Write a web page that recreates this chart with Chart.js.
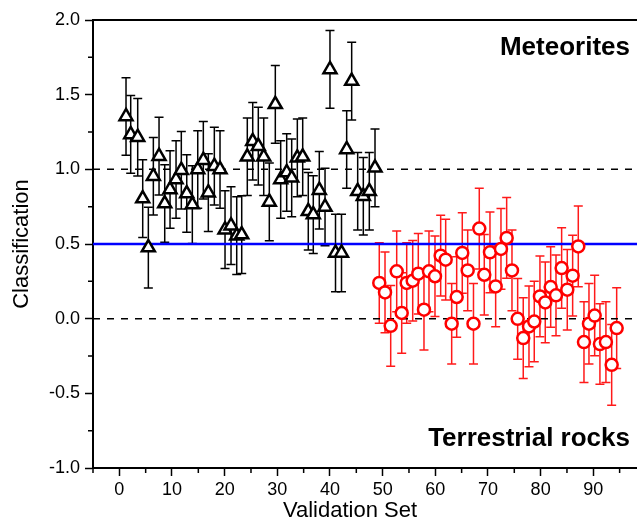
<!DOCTYPE html>
<html>
<head>
<meta charset="utf-8">
<script src="https://cdn.jsdelivr.net/npm/chart.js@4.4.1/dist/chart.umd.min.js"></script>
<style>
html,body{margin:0;padding:0;background:#fff}
#wrap{width:637px;height:527px}
</style>
</head>
<body>
<div id="wrap"><canvas id="c" width="637" height="527"></canvas></div>
<script>
// meteorites (triangles)
const meteoriteX=[1.27,2.16,3.49,4.44,5.51,6.46,7.54,8.62,9.63,10.77,11.77,12.80,13.86,14.89,15.95,16.90,18.04,19.12,20.07,21.21,22.29,23.24,24.30,25.33,26.39,27.42,28.48,29.62,30.64,31.78,32.73,33.80,34.82,35.88,36.83,37.97,39.06,40.00,41.05,42.19,43.17,44.12,45.26,46.33,47.47,48.55];
const meteoriteY=[1.354,1.234,1.215,0.804,0.476,0.954,1.088,0.771,0.865,0.932,0.994,0.838,0.764,0.999,1.061,0.844,1.021,0.999,0.596,0.623,0.556,0.563,1.084,1.188,1.155,1.084,0.782,1.435,0.932,0.979,0.943,1.077,1.084,0.719,0.697,0.860,0.748,1.669,0.440,0.440,1.133,1.591,0.853,0.820,0.853,1.010];
const meteoriteErr=[0.26,0.26,0.26,0.26,0.27,0.26,0.26,0.26,0.26,0.26,0.26,0.26,0.26,0.26,0.26,0.26,0.26,0.26,0.26,0.26,0.26,0.26,0.26,0.26,0.26,0.26,0.26,0.26,0.26,0.26,0.26,0.26,0.26,0.26,0.26,0.26,0.26,0.26,0.26,0.26,0.26,0.26,0.26,0.26,0.26,0.26];
// terrestrial rocks (circles)
const rockX=[49.36,50.45,51.53,52.67,53.62,54.57,55.71,56.77,57.85,58.80,59.94,61.02,61.97,63.11,64.06,65.12,66.15,67.25,68.35,69.30,70.38,71.46,72.47,73.55,74.56,75.64,76.70,77.79,78.79,79.87,80.88,81.91,82.92,83.99,85.06,86.08,87.15,88.23,89.18,90.26,91.26,92.40,93.49,94.44];
const rockY=[0.239,0.176,-0.048,0.317,0.038,0.239,0.254,0.301,0.060,0.317,0.284,0.422,0.395,-0.034,0.145,0.440,0.323,-0.034,0.603,0.294,0.444,0.216,0.467,0.541,0.323,-0.001,-0.130,-0.052,-0.019,0.149,0.109,0.212,0.156,0.339,0.194,0.288,0.484,-0.157,-0.034,0.021,-0.170,-0.157,-0.309,-0.063];
const rockErr=[0.27,0.27,0.27,0.27,0.27,0.27,0.27,0.27,0.27,0.27,0.27,0.27,0.27,0.27,0.27,0.27,0.27,0.27,0.27,0.27,0.27,0.27,0.27,0.27,0.27,0.27,0.27,0.27,0.27,0.27,0.27,0.27,0.27,0.27,0.27,0.27,0.27,0.27,0.27,0.27,0.27,0.27,0.27,0.27];
// axes
const xRange=[-5,98.3];
const yRange=[-1,2];
const xTicks=[0,10,20,30,40,50,60,70,80,90];
const xMinor=[-5,5,15,25,35,45,55,65,75,85,95];
const yTicks=[-1,-0.5,0,0.5,1,1.5,2];
const yMinor=[-0.75,-0.25,0.25,0.75,1.25,1.75];
const dashedLevels=[1.0,0.0];
const boundaryLevel=0.5;
const FONT='Arial, "Liberation Sans", sans-serif';

const pts=(xs,ys)=>xs.map((x,i)=>({x:x,y:ys[i]}));
const hline=v=>[{x:xRange[0],y:v},{x:xRange[1],y:v}];

const errorBars={
 id:'errorBars',
 beforeDatasetsDraw(chart){
  const ctx=chart.ctx,xs=chart.scales.x,ys=chart.scales.y;
  const sets=[[meteoriteX,meteoriteY,meteoriteErr,'#000'],[rockX,rockY,rockErr,'#ff1a1a']];
  ctx.save();
  sets.forEach(([X,Y,E,col])=>{
   ctx.strokeStyle=col;ctx.lineWidth=1.5;
   X.forEach((x,i)=>{
    const px=xs.getPixelForValue(x);
    const t=ys.getPixelForValue(Y[i]+E[i]),b=ys.getPixelForValue(Y[i]-E[i]);
    ctx.beginPath();
    ctx.moveTo(px,t);ctx.lineTo(px,b);
    ctx.moveTo(px-4.5,t);ctx.lineTo(px+4.5,t);
    ctx.moveTo(px-4.5,b);ctx.lineTo(px+4.5,b);
    ctx.stroke();
   });
  });
  ctx.restore();
 }
};

const frame={
 id:'frame',
 afterDraw(chart){
  const ctx=chart.ctx,a=chart.chartArea,xs=chart.scales.x,ys=chart.scales.y;
  ctx.save();
  ctx.strokeStyle='#000';
  ctx.lineWidth=2;
  ctx.beginPath();ctx.moveTo(a.left-1,a.top);ctx.lineTo(a.right,a.top);ctx.stroke();
  ctx.lineWidth=1.5;
  ctx.beginPath();
  xMinor.forEach(v=>{const p=xs.getPixelForValue(v);if(p>=a.left-1&&p<=a.right){ctx.moveTo(p,a.bottom);ctx.lineTo(p,a.bottom+5);}});
  yMinor.forEach(v=>{const p=ys.getPixelForValue(v);ctx.moveTo(a.left,p);ctx.lineTo(a.left-5,p);});
  ctx.stroke();
  ctx.fillStyle='#000';
  ctx.font='22px '+FONT;
  ctx.textAlign='center';ctx.textBaseline='middle';
  ctx.fillText('Validation Set',a.left+257,a.bottom+43);
  ctx.font='bold 26px '+FONT;
  ctx.textAlign='right';ctx.textBaseline='alphabetic';
  ctx.fillText('Meteorites',a.right-7,a.top+35);
  ctx.fillText('Terrestrial rocks',a.right-7,a.bottom-22);
  ctx.restore();
 }
};

const lineDs=(v,color,w,dash)=>({type:'line',data:hline(v),borderColor:color,borderWidth:w,borderDash:dash,pointRadius:0,fill:false,tension:0});

new Chart(document.getElementById('c'),{
 type:'scatter',
 data:{datasets:[
  {data:pts(meteoriteX,meteoriteY),pointStyle:'triangle',pointRadius:7.5,borderColor:'#000',backgroundColor:'#fff',borderWidth:2.5},
  {data:pts(rockX,rockY),pointStyle:'circle',pointRadius:6,borderColor:'#ff0000',backgroundColor:'#fff',borderWidth:2.5},
  lineDs(boundaryLevel,'#0000ff',2.5,[]),
  lineDs(dashedLevels[0],'#000',1.5,[7,7]),
  lineDs(dashedLevels[1],'#000',1.5,[7,7])
 ]},
 options:{
  responsive:false,animation:false,
  layout:{autoPadding:false,padding:{top:20,right:0,left:0,bottom:0}},
  plugins:{legend:{display:false},tooltip:{enabled:false}},
  scales:{
   x:{type:'linear',min:xRange[0],max:xRange[1],
    afterFit(s){s.height=59;s.paddingLeft=0;s.paddingRight=0;},
    afterBuildTicks(s){s.ticks=xTicks.map(v=>({value:v}));},
    grid:{display:true,drawOnChartArea:false,drawTicks:true,tickLength:8,tickWidth:1.5,tickColor:'#000'},
    border:{display:true,color:'#000',width:2},
    ticks:{color:'#000',padding:3,maxRotation:0,font:{family:FONT,size:18},callback:v=>String(v)}
   },
   y:{type:'linear',min:yRange[0],max:yRange[1],
    afterFit(s){s.width=93;},
    afterBuildTicks(s){s.ticks=yTicks.map(v=>({value:v}));},
    grid:{display:true,drawOnChartArea:false,drawTicks:true,tickLength:8,tickWidth:1.5,tickColor:'#000'},
    border:{display:true,color:'#000',width:2},
    ticks:{color:'#000',padding:5,font:{family:FONT,size:18},callback:v=>Number(v).toFixed(1)},
    title:{display:true,text:'Classification',color:'#000',padding:{top:9,bottom:0},font:{family:FONT,size:22}}
   }
  }
 },
 plugins:[errorBars,frame]
});
</script>
</body>
</html>
